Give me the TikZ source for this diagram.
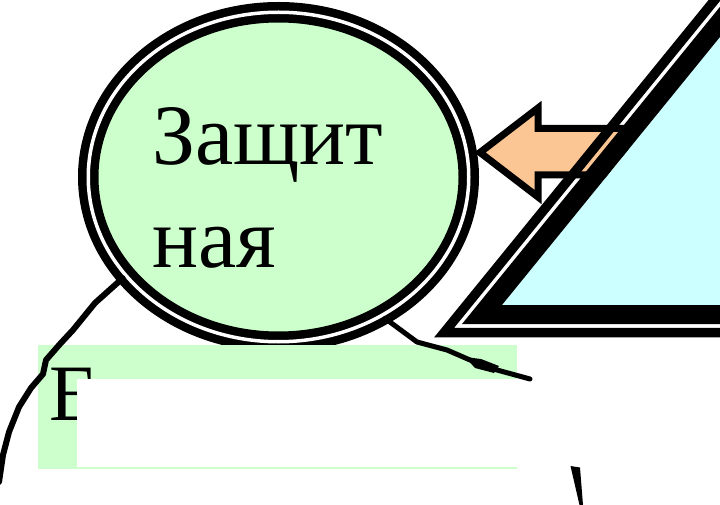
\documentclass[tikz,border=0pt]{standalone}
\usepackage{fontspec}
\setmainfont{Liberation Serif}
\usetikzlibrary{shapes.geometric}

\definecolor{mintgreen}{RGB}{204,255,204}
\definecolor{paleaqua}{RGB}{204,255,255}
\definecolor{peach}{RGB}{252,198,148}

\newcommand{\bigtext}{\fontsize{86}{102}\selectfont}

\begin{document}
\begin{tikzpicture}[x=1pt, y=-1pt,
    ring/.style={ellipse, draw=black, fill=mintgreen, line width=8.5pt, double=white, double distance=3.5pt, minimum width=380.5pt, minimum height=329.5pt, inner sep=0pt},
    wire/.style={line width=6pt, line join=round, line cap=round},
    label/.style={anchor=base west, inner sep=0pt, font=\bigtext}]
            \useasboundingbox (0,0) rectangle (720,505);
            \clip (0,0) rectangle (720,505);

            %円を書く
            \node[ring] (protCircle) at (278.5,177) {};

            %矢印を書く
            \filldraw[fill=peach, line width=7pt, line join=miter] (480,152.5) -- (538,108) -- (538,128.5) -- (625,128.5) -- (625,175) -- (538,175) -- (538,197) -- cycle;

            %三角形を書く
            \fill[paleaqua] (502,305) -- (830,305) -- (830,-60) -- (799,-60) -- cycle;
            \draw[line width=19pt, line join=miter] (786.6,-60) -- (482,314.5) -- (830,314.5);
            \draw[line width=9.5pt, line join=miter] (763.5,-60) -- (444.2,332.5) -- (830,332.5);

            %下の箱を書く
            \fill[mintgreen] (38,345) rectangle (517,469);
            \node[anchor=base west, inner sep=0pt, font=\fontsize{80}{96}\selectfont] (capLetter) at (49,420) {Е};
            \fill[white] (77,379) rectangle (517,467);

            %文字を書く
            \node[label] (zashText) at (152,165) {Защит};
            \node[label] (nayaText) at (152,267) {ная};

            %線を書く
            \coordinate (leftEnd) at (-1,482);
            \coordinate (rightEnd) at (530,379);
            \draw[wire] (protCircle.213) -- (95,303) -- (73,330) -- (60,344) -- (46,360) -- (43,374) -- (31,388) -- (19,407) -- (9,432) -- (3,455) -- (leftEnd);
            \draw[wire, line width=5pt] (protCircle.307) -- (417,342) -- (447,350) -- (470,360) -- (497,370) -- (rightEnd);
            \fill (465,357) -- (481,359) -- (499,366) -- (494,373) -- (475,368) -- cycle;
            \fill (570.5,466) -- (580,467.5) -- (583,505) -- (579.5,505) -- cycle;
        \end{tikzpicture}
\end{document}
